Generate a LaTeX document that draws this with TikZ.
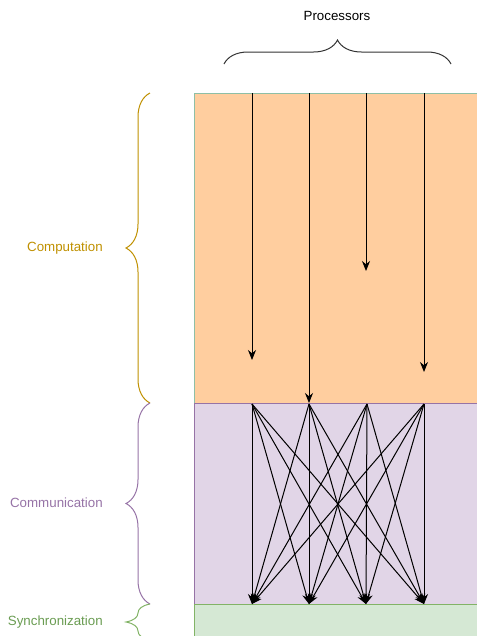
\documentclass[tikz,border=0pt]{standalone}
\usepackage{fontspec}
\setmainfont{Liberation Sans}
\usetikzlibrary{positioning,arrows.meta,decorations.pathreplacing}

\definecolor{compfill}{HTML}{FFCE9F}
\definecolor{compline}{HTML}{8EBFA6}
\definecolor{compfont}{HTML}{BF9000}
\definecolor{commfill}{HTML}{E1D5E7}
\definecolor{commline}{HTML}{9673A6}
\definecolor{syncfill}{HTML}{D5E8D4}
\definecolor{syncline}{HTML}{82B366}
\definecolor{syncfont}{HTML}{6A9C52}

\begin{document}
\begin{tikzpicture}[x=0.75pt,y=-0.75pt,
		font=\fontsize{10}{12}\selectfont,
		phasebox/.style={line width=0.75pt},
		curly/.style={line width=0.75pt,decorate,decoration={brace,amplitude=18pt}},
		phaselabel/.style={inner sep=0pt,node distance=16.5pt},
		msg/.style={line width=0.75pt,-{Stealth[length=7.5pt,width=6pt]}}]
		\useasboundingbox (0,0) rectangle (477,636);

		% the three phases of a superstep
		\filldraw[phasebox,fill=compfill,draw=compline]	(194,93)	rectangle (480,403);
		\filldraw[phasebox,fill=commfill,draw=commline]	(194,403)	rectangle (480,604);
		\filldraw[phasebox,fill=syncfill,draw=syncline]	(194,604)	rectangle (480,640);

		% processors
		\draw[curly,draw=black!80]	(224,64) -- (451,64);
		\node[inner sep=0pt]	(procs)	at (337,16)	{Processors};

		\coordinate (t1) at (252,93);
		\coordinate (t2) at (309,93);
		\coordinate (t3) at (366,93);
		\coordinate (t4) at (424,93);

		\coordinate (c1) at (252,360);
		\coordinate (c2) at (309,403);
		\coordinate (c3) at (366,271);
		\coordinate (c4) at (424,372);

		\coordinate (s1) at (252,404);
		\coordinate (s2) at (309,404);
		\coordinate (s3) at (367,404);
		\coordinate (s4) at (424,404);

		\coordinate (r1) at (252,604);
		\coordinate (r2) at (309,604);
		\coordinate (r3) at (366,604);
		\coordinate (r4) at (424,604);

		% local work
		\foreach \i in {1,...,4}
			\draw[msg] (t\i) -- (c\i);

		% every processor sends to every processor
		\foreach \i in {1,...,4}
			\foreach \j in {1,...,4}
				\draw[msg] (s\i) -- (r\j);

		% phase braces and labels
		\draw[curly,draw=compfont]	(150,403) -- (150,93);
		\coordinate (comptip) at (125,248);
		\node[phaselabel,text=compfont,left=of comptip]	(comp)	{Computation};

		\draw[curly,draw=commline]	(150,604) -- (150,403);
		\coordinate (commtip) at (125,503);
		\node[phaselabel,text=commline,left=of commtip]	(comm)	{Communication};

		\draw[curly,draw=syncline]	(150,640) -- (150,604);
		\coordinate (synctip) at (125,622);
		\node[phaselabel,text=syncfont,left=of synctip]	(sync)	{Synchronization};
	\end{tikzpicture}
\end{document}
